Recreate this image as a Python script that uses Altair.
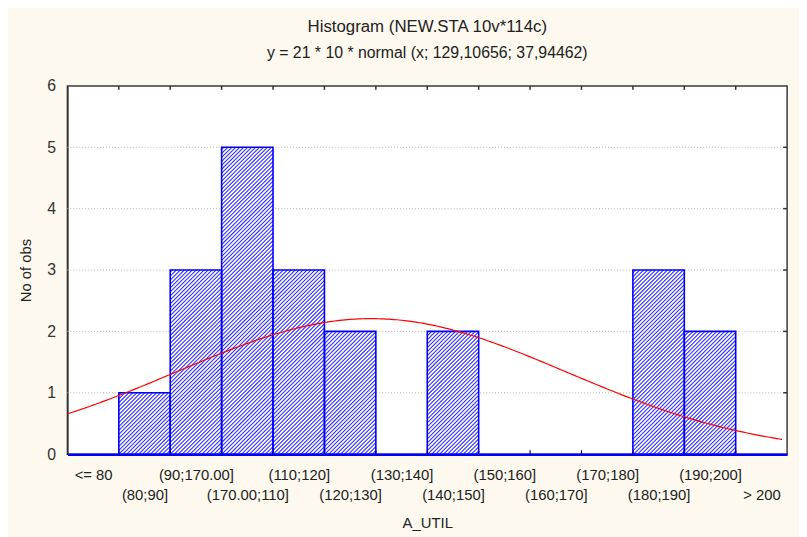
import math
import altair as alt
import pandas as pd

# ---- data ----
bin_labels = ["<= 80", "(80;90]", "(90;170.00]", "(170.00;110]", "(110;120]",
              "(120;130]", "(130;140]", "(140;150]", "(150;160]", "(160;170]",
              "(170;180]", "(180;190]", "(190;200]", "> 200"]
bin_lower = [70, 80, 90, 100, 110, 120, 130, 140, 150, 160, 170, 180, 190, 200]
bin_upper = [80, 90, 100, 110, 120, 130, 140, 150, 160, 170, 180, 190, 200, 210]
counts = [0, 1, 3, 5, 3, 2, 0, 2, 0, 0, 0, 3, 2, 0]

# fitted curve parameters (from the chart subtitle)
n_obs = 21
bin_width = 10
mu = 129.10656
sigma = 37.94462

y_ticks = [0, 1, 2, 3, 4, 5, 6]
grid_levels = [1, 2, 3, 4, 5]

W, H = 727, 372
X_MIN, X_MAX = 70, 210
Y_MAX = 6
BLUE = "#0000ff"
FONT = "Liberation Sans"

df = pd.DataFrame({"label": bin_labels, "lo": bin_lower, "hi": bin_upper,
                   "count": counts})
df["mid"] = (df["lo"] + df["hi"]) / 2
bars_df = df[df["count"] > 0]

# ---- diagonal hatch segments inside each bar (derived from the bars) ----
sx = W / (X_MAX - X_MIN)   # px per x unit
sy = H / Y_MAX             # px per count
PERIOD = 4.0               # horizontal spacing of hatch lines, px
segs = []
for r in bars_df.itertuples():
    x0 = (r.lo - X_MIN) * sx
    w = (r.hi - r.lo) * sx
    h = r.count * sy
    k_start = math.ceil((x0 - h) / PERIOD)
    k_end = math.floor((x0 + w) / PERIOD)
    for k in range(k_start, k_end + 1):
        d = k * PERIOD - x0
        if d >= 0:
            xa, ya = d, 0.0
        else:
            xa, ya = 0.0, -d
        if h + d <= w:
            xb, yb = h + d, h
        else:
            xb, yb = w, w - d
        if xb - xa < 0.3:
            continue
        segs.append({"xa": r.lo + xa / sx, "xb": r.lo + xb / sx,
                     "ya": ya / sy, "yb": yb / sy})
hatch_df = pd.DataFrame(segs)

xscale = alt.Scale(domain=[X_MIN, X_MAX], nice=False, zero=False)
yscale = alt.Scale(domain=[0, Y_MAX], nice=False)

mids = list(df["mid"])
label_js = "[" + ",".join("'" + s + "'" for s in bin_labels) + "]"
label_expr = (f"(round((datum.value-75)/10) % 2 == 0) ? {label_js}[round((datum.value-75)/10)]"
              f" : ['', {label_js}[round((datum.value-75)/10)]]")

x_axis = alt.Axis(values=mids, labelExpr=label_expr, ticks=False,
                  grid=False, domainColor=BLUE, domainWidth=2.5,
                  labelFont=FONT, labelFontSize=15, labelColor="#222",
                  labelPadding=14, labelLineHeight=20,
                  labelBaseline="top", labelFlush=False, labelOverlap=False,
                  title="A_UTIL", titleFont=FONT, titleFontSize=15,
                  titleFontWeight="normal", titleColor="#222", titlePadding=13)
y_axis = alt.Axis(values=y_ticks, format="d", ticks=False, grid=False,
                  domainColor="#333", domainWidth=1.5,
                  labelFont=FONT, labelFontSize=16, labelColor="#333",
                  labelPadding=12,
                  title="No of obs", titleFont=FONT, titleFontSize=15,
                  titleFontWeight="normal", titleColor="#222", titlePadding=13)

bar_fill = alt.Chart(bars_df).mark_rect(fill="#ffffff", strokeWidth=0).encode(
    x=alt.X("lo:Q", scale=xscale, axis=x_axis), x2="hi:Q",
    y=alt.Y("count:Q", scale=yscale, axis=y_axis), y2=alt.datum(0),
)

hatch_layer = alt.Chart(hatch_df).mark_rule(
    color="#2e2eff", strokeWidth=1.1
).encode(
    x=alt.X("xa:Q", scale=xscale), x2="xb:Q",
    y=alt.Y("ya:Q", scale=yscale), y2="yb:Q",
)

outline_layer = alt.Chart(bars_df).mark_rect(
    fill="transparent", stroke=BLUE, strokeWidth=1.6
).encode(
    x=alt.X("lo:Q", scale=xscale), x2="hi:Q",
    y=alt.Y("count:Q", scale=yscale), y2=alt.datum(0),
)

grid = alt.Chart(pd.DataFrame({"g": grid_levels})).mark_rule(
    color="#b8b8b8", strokeDash=[1, 2], strokeWidth=1
).encode(y=alt.Y("g:Q", scale=yscale), x=alt.value(0), x2=alt.value(W))

right_ticks = alt.Chart(pd.DataFrame({"g": grid_levels})).mark_rule(
    color="#333", strokeWidth=1.5
).encode(y=alt.Y("g:Q", scale=yscale), x=alt.value(W - 4), x2=alt.value(W))

edges = bin_upper[:-1]
top_ticks = alt.Chart(pd.DataFrame({"e": edges})).mark_rule(
    color="#333", strokeWidth=1.5
).encode(x=alt.X("e:Q", scale=xscale), y=alt.value(0), y2=alt.value(4))

bottom_ticks = alt.Chart(pd.DataFrame({"e": edges})).mark_rule(
    color="#00008b", strokeWidth=1.2
).encode(x=alt.X("e:Q", scale=xscale), y=alt.value(H - 4), y2=alt.value(H))

curve = alt.Chart(alt.sequence(70, 209.01, 0.5, as_="x")).transform_calculate(
    y=f"{n_obs}*{bin_width}*exp(-0.5*pow((datum.x-{mu})/{sigma},2))/({sigma}*sqrt(2*PI))"
).mark_line(color="#ff0000", strokeWidth=1.2).encode(
    x=alt.X("x:Q", scale=xscale), y=alt.Y("y:Q", scale=yscale)
)

chart = alt.layer(grid, top_ticks, right_ticks, bar_fill, hatch_layer, outline_layer,
                  bottom_ticks, curve).properties(
    width=W, height=H,
    title=alt.TitleParams(
        text="Histogram (NEW.STA 10v*114c)",
        subtitle="y = 21 * 10 * normal (x; 129,10656; 37,94462)",
        font=FONT, fontSize=17, fontWeight="normal", color="#222",
        subtitleFont=FONT, subtitleFontSize=16, subtitleColor="#222",
        subtitlePadding=9, anchor="middle", offset=16,
    ),
    autosize=alt.AutoSizeParams(type="none"),
    padding={"left": 60, "top": 76, "right": 12, "bottom": 81},
).configure(background="#fdf9ee").configure_view(
    fill="#ffffff", stroke="#3a3a3a", strokeWidth=1.5
)

chart.save("out.html", embed_options={"renderer": "svg", "actions": False})
